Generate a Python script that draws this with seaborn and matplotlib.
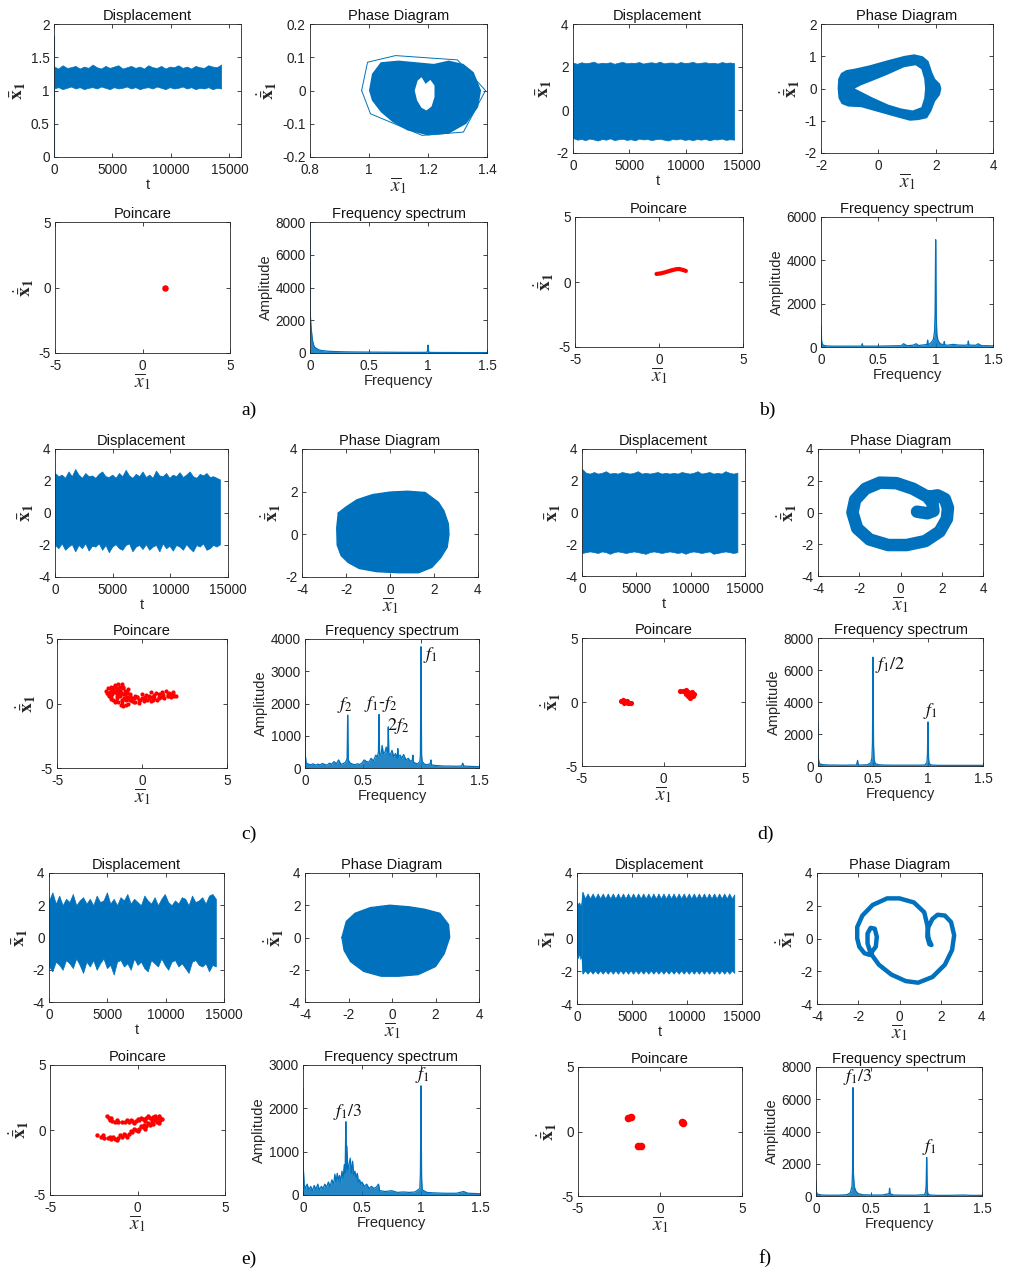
import numpy as np
import matplotlib
matplotlib.use("Agg")
import matplotlib.pyplot as plt
from matplotlib.ticker import FuncFormatter
import seaborn as sns

# =========================== DATA ===========================
T_END = 14300

# ---- displacement bands: upper / lower edge of the dense oscillation ----
a_disp_hi = [1.36,1.33,1.38,1.34,1.35,1.37,1.33,1.36,1.34,1.39,
             1.35,1.33,1.37,1.34,1.36,1.38,1.33,1.35,1.37,1.34,
             1.36,1.33,1.38,1.35,1.34,1.37,1.33,1.36,1.35,1.38,
             1.34,1.36,1.33,1.37,1.35,1.34,1.38,1.36,1.35,1.39]
a_disp_lo = [1.03,1.05,1.02,1.04,1.06,1.03,1.05,1.02,1.04,1.05,
             1.03,1.06,1.04,1.02,1.05,1.03,1.04,1.06,1.03,1.05,
             1.02,1.04,1.05,1.03,1.06,1.04,1.02,1.05,1.03,1.04,
             1.06,1.03,1.05,1.02,1.04,1.03,1.05,1.02,1.04,1.03]
a_disp_start = [0.0, 1.82]

b_disp_hi = [2.20,2.15,2.22,2.18,2.20,2.25,2.16,2.20,2.18,2.22,
             2.15,2.20,2.24,2.17,2.20,2.19,2.23,2.16,2.20,2.22,
             2.18,2.25,2.17,2.20,2.21,2.16,2.23,2.19,2.20,2.24,
             2.17,2.20,2.22,2.18,2.20,2.16,2.23,2.19,2.21,2.18]
b_disp_lo = [-1.30,-1.38,-1.35,-1.40,-1.33,-1.37,-1.42,-1.35,-1.38,-1.32,
             -1.40,-1.36,-1.34,-1.39,-1.36,-1.41,-1.33,-1.37,-1.35,-1.40,
             -1.36,-1.34,-1.38,-1.42,-1.35,-1.37,-1.33,-1.39,-1.36,-1.40,
             -1.35,-1.38,-1.34,-1.41,-1.36,-1.37,-1.33,-1.39,-1.36,-1.38]

c_disp_hi = [2.50,2.30,2.40,2.20,2.60,2.30,2.75,2.40,2.20,2.50,
             2.30,2.35,2.20,2.45,2.60,2.30,2.25,2.40,2.20,2.50,
             2.30,2.70,2.35,2.20,2.45,2.30,2.60,2.25,2.40,2.20,
             2.65,2.35,2.30,2.50,2.20,2.40,2.30,2.55,2.25,2.40,
             2.60,2.30,2.20,2.45,2.35,2.50,2.25,2.30,2.20,2.10]
c_disp_lo = [-2.00,-2.20,-1.90,-2.30,-2.10,-1.95,-2.40,-2.00,-2.20,-1.90,
             -2.35,-2.05,-2.10,-1.90,-2.30,-2.00,-2.45,-2.10,-1.95,-2.20,
             -2.30,-2.00,-1.90,-2.40,-2.10,-2.00,-2.25,-1.95,-2.30,-2.10,
             -2.00,-2.40,-1.90,-2.20,-2.05,-2.35,-2.00,-2.10,-2.30,-1.95,
             -2.20,-2.40,-2.00,-2.10,-1.90,-2.30,-2.20,-2.00,-2.10,-1.95]

d_disp_hi = [2.75,2.50,2.45,2.55,2.45,2.50,2.60,2.45,2.50,2.45,
             2.55,2.50,2.45,2.50,2.60,2.45,2.50,2.45,2.50,2.55,
             2.45,2.50,2.45,2.50,2.45,2.55,2.50,2.45,2.50,2.60,
             2.45,2.50,2.55,2.45,2.50,2.45,2.60,2.50,2.45,2.50]
d_disp_lo = [-2.55,-2.50,-2.45,-2.50,-2.55,-2.45,-2.50,-2.60,-2.50,-2.45,
             -2.50,-2.55,-2.50,-2.45,-2.50,-2.55,-2.60,-2.50,-2.45,-2.50,
             -2.55,-2.50,-2.45,-2.50,-2.55,-2.50,-2.60,-2.50,-2.45,-2.50,
             -2.55,-2.50,-2.45,-2.60,-2.55,-2.50,-2.45,-2.50,-2.55,-2.50]

e_disp_hi = [2.30,2.80,2.10,2.60,2.00,2.40,2.20,2.70,2.00,2.30,
             2.50,2.10,2.40,2.00,2.60,2.20,2.30,2.80,2.10,2.40,
             2.00,2.50,2.30,2.70,2.10,2.40,2.20,2.00,2.60,2.30,
             2.10,2.50,2.00,2.40,2.70,2.20,2.00,2.30,2.10,2.50,
             2.40,2.00,2.60,2.20,2.30,2.50,2.10,2.60,2.70,2.40]
e_disp_lo = [-1.80,-2.10,-1.50,-1.70,-2.00,-1.40,-1.60,-1.90,-1.30,-1.70,
             -2.20,-1.50,-1.80,-1.40,-2.00,-1.60,-1.30,-1.90,-1.70,-2.30,
             -1.50,-1.40,-1.80,-1.60,-2.00,-1.30,-1.70,-1.50,-1.90,-2.10,
             -1.40,-1.60,-1.80,-1.30,-1.70,-2.00,-1.50,-1.40,-1.80,-1.60,
             -1.90,-2.20,-1.50,-1.40,-1.70,-1.80,-1.60,-2.10,-1.70,-1.80]

f_trans_t = [0, 100, 200, 300, 400, 480]
f_trans_hi = [2.20, 2.10, 2.20, 2.00, 2.20, 2.85]
f_trans_lo = [-0.80, -1.20, -0.90, -1.25, -1.00, -2.10]
f_disp_hi = [2.85,2.45,2.75,2.45,2.75,2.45,2.75,2.45,2.75,2.45,
             2.75,2.45,2.75,2.45,2.75,2.45,2.75,2.45,2.75,2.45,
             2.75,2.45,2.75,2.45,2.75,2.45,2.75,2.45,2.75,2.45,
             2.75,2.45,2.75,2.45,2.75,2.45,2.75,2.45,2.75,2.45,
             2.75,2.45,2.75,2.45,2.75,2.45,2.75,2.45,2.75,2.45,
             2.75,2.45,2.75,2.45,2.75,2.45,2.75,2.45,2.75,2.45,
             2.70]
f_disp_lo = [-2.15,-1.95,-2.15,-1.95,-2.15,-1.95,-2.15,-1.95,-2.15,-1.95,
             -2.15,-1.95,-2.15,-1.95,-2.15,-1.95,-2.15,-1.95,-2.15,-1.95,
             -2.15,-1.95,-2.15,-1.95,-2.15,-1.95,-2.15,-1.95,-2.15,-1.95,
             -2.15,-1.95,-2.15,-1.95,-2.15,-1.95,-2.15,-1.95,-2.15,-1.95,
             -2.15,-1.95,-2.15,-1.95,-2.15,-1.95,-2.15,-1.95,-2.15,-1.95,
             -2.15,-1.95,-2.15,-1.95,-2.15,-1.95,-2.15,-1.95,-2.15,-1.95,
             -2.10]

# ---- phase diagrams (x, xdot) ----
a_phase_outer = [(1.00,0.00),(1.01,0.05),(1.04,0.085),(1.10,0.09),(1.16,0.085),(1.22,0.08),
                 (1.27,0.09),(1.32,0.08),(1.355,0.055),(1.38,0.00),(1.37,-0.05),(1.33,-0.10),
                 (1.27,-0.13),(1.20,-0.135),(1.13,-0.12),(1.08,-0.095),(1.04,-0.065),(1.01,-0.03)]
a_phase_hole = [(1.155,0.00),(1.165,0.03),(1.178,0.040),(1.192,0.020),(1.208,0.032),(1.222,0.015),
                (1.222,-0.020),(1.212,-0.048),(1.195,-0.060),(1.178,-0.052),(1.163,-0.030)]
a_phase_hull = [(0.975,0.00),(0.995,0.085),(1.09,0.105),(1.30,0.092),(1.395,0.00),(1.32,-0.125),
                (1.18,-0.135),(1.005,-0.07),(0.975,0.00)]

b_phase_outer = [(-1.42,0.00),(-1.40,0.30),(-1.30,0.48),(-1.12,0.57),(-0.80,0.62),(-0.30,0.72),
                 (0.30,0.87),(0.90,1.01),(1.25,1.06),(1.55,1.00),(1.75,0.85),(1.88,0.50),
                 (1.98,0.30),(2.15,0.15),(2.20,0.00),(2.15,-0.20),(1.98,-0.40),(1.85,-0.70),
                 (1.70,-0.92),(1.40,-0.98),(1.10,-1.00),(0.60,-0.88),(0.00,-0.73),(-0.60,-0.58),
                 (-1.05,-0.56),(-1.28,-0.48),(-1.39,-0.30)]
b_phase_inner = [(-0.82,0.00),(-0.60,0.10),(-0.20,0.24),(0.30,0.42),(0.90,0.66),(1.30,0.72),
                 (1.50,0.60),(1.60,0.30),(1.63,0.00),(1.60,-0.30),(1.50,-0.58),(1.20,-0.68),
                 (0.80,-0.62),(0.35,-0.50),(-0.20,-0.28),(-0.60,-0.10)]

c_phase_outer = [(-2.35,1.00),(-2.42,0.30),(-2.40,-0.50),(-2.22,-1.00),(-1.90,-1.32),(-1.40,-1.60),
                 (-0.60,-1.75),(0.40,-1.80),(1.30,-1.80),(1.90,-1.55),(2.30,-1.10),(2.60,-0.60),
                 (2.68,0.00),(2.65,0.50),(2.45,1.10),(2.20,1.50),(1.60,1.96),(0.80,2.02),
                 (0.00,1.98),(-0.80,1.86),(-1.50,1.62),(-2.00,1.28)]

d_phase_path = [(0.80,0.05),(1.30,-0.05),(1.60,0.10),(1.55,0.60),(1.30,1.00),(0.60,1.50),
                (-0.20,1.85),(-1.00,1.88),(-1.70,1.50),(-2.20,0.80),(-2.33,0.00),(-2.10,-1.00),
                (-1.50,-1.70),(-0.60,-2.05),(0.30,-2.05),(1.20,-1.80),(1.90,-1.20),(2.25,-0.40),
                (2.30,0.30),(2.15,0.85),(1.80,1.08),(1.40,1.00)]

e_phase_outer = [(-2.30,0.00),(-2.10,1.00),(-1.70,1.50),(-1.00,1.85),(-0.10,2.00),(0.80,1.90),
                 (1.50,1.75),(2.20,1.50),(2.60,0.80),(2.65,0.00),(2.40,-1.00),(2.00,-1.80),
                 (1.20,-2.30),(0.30,-2.40),(-0.50,-2.40),(-1.30,-2.10),(-1.90,-1.50),(-2.20,-0.80)]

f_phase_path = [(1.40,0.00),(1.35,0.80),(1.20,1.60),(0.70,2.20),(0.00,2.45),(-0.60,2.45),
                (-1.30,2.05),(-1.80,1.40),(-2.05,0.70),(-2.05,0.00),(-1.95,-0.50),(-1.70,-0.90),
                (-1.45,-1.00),(-1.15,-0.50),(-1.10,0.10),(-1.20,0.60),(-1.40,0.65),(-1.55,0.30),
                (-1.55,-0.30),(-1.40,-0.90),(-1.00,-1.60),(-0.40,-2.20),(0.30,-2.60),(0.90,-2.70),
                (1.60,-2.35),(2.20,-1.60),(2.55,-0.70),(2.65,0.20),(2.50,1.00),(2.20,1.40),
                (1.85,1.45),(1.60,1.20),(1.40,0.70),(1.35,0.10),(1.45,-0.35),(1.55,-0.40),(1.40,0.00)]

# ---- Poincare sections ----
a_poin = [(1.30, 0.00)]
b_poin = [(-0.15,0.62),(0.10,0.66),(0.40,0.76),(0.70,0.88),(1.00,0.98),(1.20,1.00),(1.45,0.92),(1.60,0.85)]
c_poin_x = [-2.1,-2.0,-1.9,-1.8,-1.7,-1.6,-1.5,-1.4,-1.3,-1.2,-1.1,-1.0,-0.9,
            -2.0,-1.85,-1.7,-1.55,-1.4,-1.25,-1.1,-0.95,-0.8,-0.6,-0.4,-0.2,
            0.0,0.2,0.4,0.6,0.8,1.0,1.2,1.4,1.6,1.8,2.0,
            -1.5,-1.3,-1.1,-0.9,-0.7,-0.5,-0.3,-0.1,0.1,0.3,0.5,0.7,0.9,1.1,1.3,1.5,1.7,1.9,
            -1.9,-1.6,-1.3,-1.0,-0.7,-0.4,0.0,0.5,1.0,1.5,-1.75,-1.45,-1.15,-0.85,
            -2.05,-1.95,-1.85,-1.75,-1.65,-1.55,-1.45,-1.35,-1.25,-1.15,-1.05,-0.95,
            -1.8,-1.6,-1.4,-1.2,-1.0,-0.8,-0.6,-0.3,0.1,0.4,0.7,1.0,1.25,1.55,1.85,
            -1.7,-1.5,-1.3,-1.1,-0.9,-0.7,-0.45,-0.15,0.25,0.65,1.15,1.65]
c_poin_y = [1.0,1.2,0.9,1.3,1.1,1.4,1.2,1.5,1.3,1.5,1.2,1.0,0.8,
            0.7,0.5,0.3,0.2,0.1,-0.1,-0.2,-0.1,0.0,0.2,0.1,0.3,
            0.4,0.5,0.6,0.5,0.8,0.7,0.9,1.0,0.8,0.9,0.6,
            0.8,0.6,0.7,0.5,0.6,0.4,0.5,0.3,0.2,0.3,0.2,0.4,0.3,0.5,0.4,0.6,0.5,0.6,
            0.6,0.9,1.0,0.4,0.3,0.6,0.7,0.9,0.5,0.7,0.95,0.55,0.3,1.1,
            0.8,0.6,1.15,0.7,1.25,0.9,0.4,1.1,0.8,0.0,0.4,0.3,
            0.35,0.15,0.7,0.2,0.7,0.35,0.45,0.5,0.45,0.4,0.65,0.45,0.65,0.55,0.75,
            1.05,1.0,0.95,1.25,0.95,0.75,0.15,0.05,0.65,0.25,0.85,0.75]
d_poin = [(-2.60,0.10),(-2.50,0.15),(-2.40,0.05),(-2.30,0.00),(-2.20,-0.05),(-2.10,-0.05),
          (-2.00,-0.10),(-2.45,-0.05),(-2.25,0.10),
          (1.00,0.85),(1.20,0.85),(1.35,0.90),(1.50,0.80),(1.60,0.70),(1.70,0.55),(1.80,0.45),
          (1.50,0.45),(1.60,0.35),(1.75,0.75),(1.40,0.65),(1.85,0.60)]
e_poin = [(-1.75,1.05),(-1.65,0.90),(-1.55,0.80),(-1.45,0.70),(-1.30,0.65),(-1.10,0.60),(-0.90,0.62),
          (-0.70,0.60),(-0.50,0.65),(-0.30,0.70),(-0.10,0.72),(0.10,0.80),(0.30,0.85),(0.50,0.90),
          (0.70,0.95),(0.90,1.00),(1.10,0.95),(1.30,0.90),(1.40,0.85),(-1.20,0.75),(-0.60,0.75),
          (0.00,0.85),(0.60,1.05),(1.00,1.10),(0.40,0.70),(-0.20,0.55),(0.80,0.80),
          (-2.30,-0.40),(-2.10,-0.50),(-1.90,-0.60),(-1.70,-0.65),(-1.50,-0.70),(-1.30,-0.70),
          (-1.10,-0.60),(-0.90,-0.50),(-0.70,-0.40),(-0.50,-0.30),(-0.30,-0.15),(-0.10,0.00),
          (0.10,0.10),(0.30,0.20),(0.50,0.30),(0.70,0.40),(0.90,0.50),(1.10,0.65),(1.30,0.75),
          (-1.60,-0.50),(-1.00,-0.40),(-0.40,-0.10),(0.20,0.30),(0.60,0.55),(1.00,0.80),
          (-1.20,-0.80),(-0.60,-0.50),(0.00,-0.10),(0.40,0.10),
          (-2.00,-0.40),(-1.40,-0.55),(-0.80,-0.30),(-0.20,0.10),(0.35,0.40),(0.85,0.65),
          (1.20,0.55),(-1.50,0.95),(-0.40,0.80),(0.20,0.95),(0.95,0.85),(1.25,1.05)]
f_poin = [(-1.95,1.08),(-1.78,1.12),(-1.33,-1.14),(-1.18,-1.12),(1.33,0.76),(1.38,0.64)]

# ---- frequency spectra (frequency, amplitude) ----
a_spec = [(0,8000),(0.002,2500),(0.005,2000),(0.01,1500),(0.02,800),(0.03,500),(0.04,350),(0.06,250),
          (0.08,180),(0.1,150),(0.15,110),(0.2,90),(0.3,70),(0.4,60),(0.5,55),(0.6,50),(0.7,45),
          (0.8,40),(0.9,40),(0.99,40),(0.995,120),(1.0,480),(1.005,100),(1.01,35),(1.1,30),
          (1.2,30),(1.3,25),(1.4,25),(1.5,25)]
b_spec = [(0,1000),(0.005,300),(0.01,150),(0.02,80),(0.05,50),(0.1,40),(0.2,40),(0.3,40),(0.355,40),
          (0.36,150),(0.365,40),(0.4,40),(0.5,40),(0.6,50),(0.7,60),(0.72,150),(0.75,60),(0.8,80),
          (0.83,150),(0.85,70),(0.9,100),(0.925,120),(0.93,320),(0.935,100),(0.96,200),(0.98,350),
          (0.99,700),(0.995,1500),(1.0,4950),(1.005,1400),(1.01,600),(1.02,300),(1.04,150),
          (1.07,100),(1.075,250),(1.08,100),(1.1,80),(1.15,120),(1.2,90),(1.25,80),(1.28,100),
          (1.285,280),(1.29,90),(1.35,80),(1.37,150),(1.4,60),(1.45,60),(1.5,50)]
c_spec = [(0.0,2200),(0.003,400),(0.01,150),(0.03,120),(0.05,100),(0.07,130),(0.09,90),(0.11,120),
          (0.13,100),(0.15,140),(0.17,110),(0.19,90),(0.21,150),(0.23,120),(0.25,200),(0.27,130),
          (0.29,250),(0.31,110),(0.33,140),(0.35,180),(0.363,300),(0.368,1640),(0.373,250),
          (0.39,150),(0.41,120),(0.43,100),(0.45,130),(0.47,110),(0.49,150),(0.51,250),(0.53,200),
          (0.55,180),(0.57,300),(0.59,220),(0.61,400),(0.625,350),(0.633,500),(0.638,1660),
          (0.643,450),(0.655,400),(0.665,700),(0.675,450),(0.69,500),(0.70,650),(0.713,500),
          (0.718,1275),(0.723,450),(0.735,400),(0.75,550),(0.765,350),(0.78,450),(0.795,300),
          (0.80,600),(0.805,350),(0.82,400),(0.835,300),(0.85,420),(0.87,250),(0.89,300),
          (0.91,200),(0.925,250),(0.93,400),(0.935,180),(0.95,150),(0.97,130),(0.99,200),
          (0.995,400),(1.0,3760),(1.005,400),(1.01,200),(1.03,120),(1.05,100),(1.08,130),
          (1.085,250),(1.09,100),(1.12,80),(1.16,70),(1.2,60),(1.25,60),(1.3,55),(1.35,60),
          (1.36,150),(1.37,60),(1.42,50),(1.46,45),(1.5,40)]
d_spec = [(0,2700),(0.003,500),(0.01,200),(0.02,120),(0.05,80),(0.1,60),(0.15,60),(0.2,50),(0.25,50),
          (0.3,60),(0.35,60),(0.36,350),(0.365,120),(0.37,60),(0.4,60),(0.45,80),(0.48,200),
          (0.49,500),(0.495,1400),(0.5,6800),(0.505,1300),(0.51,400),(0.52,150),(0.55,80),(0.6,60),
          (0.7,50),(0.8,50),(0.9,50),(0.97,60),(0.99,200),(0.995,700),(1.0,2750),(1.005,500),
          (1.01,150),(1.03,60),(1.1,40),(1.2,40),(1.3,40),(1.4,40),(1.5,40)]
e_spec = [(0,2460),(0.003,600),(0.01,250),(0.02,150),(0.035,250),(0.05,120),(0.065,200),(0.08,100),
          (0.095,220),(0.11,130),(0.125,250),(0.14,120),(0.155,200),(0.17,150),(0.185,250),(0.2,180),
          (0.215,300),(0.23,200),(0.245,350),(0.26,250),(0.27,480),(0.28,300),(0.29,500),(0.3,350),
          (0.31,450),(0.32,300),(0.33,550),(0.34,400),(0.35,700),(0.357,500),(0.363,1690),(0.368,600),
          (0.372,1130),(0.38,550),(0.39,700),(0.4,850),(0.41,500),(0.42,780),(0.43,450),(0.44,550),
          (0.45,400),(0.46,500),(0.47,300),(0.48,350),(0.49,250),(0.5,300),(0.52,200),(0.54,250),
          (0.56,150),(0.58,200),(0.6,150),(0.62,180),(0.64,250),(0.65,100),(0.7,80),(0.75,100),
          (0.8,60),(0.85,70),(0.9,60),(0.95,70),(0.99,150),(0.995,500),(1.0,2520),(1.005,400),
          (1.01,120),(1.05,60),(1.1,50),(1.2,40),(1.3,40),(1.36,80),(1.4,40),(1.5,30)]
f_spec = [(0,950),(0.003,300),(0.01,120),(0.05,60),(0.1,50),(0.2,50),(0.28,80),(0.31,200),(0.325,600),
          (0.33,1500),(0.334,6720),(0.338,1400),(0.345,600),(0.35,500),(0.36,300),(0.38,150),
          (0.42,80),(0.5,60),(0.6,60),(0.66,150),(0.665,480),(0.67,150),(0.7,60),(0.8,50),(0.9,50),
          (0.98,80),(0.99,250),(0.995,600),(1.0,2390),(1.005,500),(1.01,150),(1.03,60),(1.1,40),
          (1.2,40),(1.33,60),(1.4,40),(1.5,40)]

# peak annotations: (text, x, y, ha, va)
c_notes = [(r'$f_2$', 0.345, 1650, 'center', 'bottom'), (r'$f_1$-$f_2$', 0.655, 1660, 'center', 'bottom'),
           (r'$2f_2$', 0.805, 980, 'center', 'bottom'), (r'$f_1$', 1.02, 3820, 'left', 'top')]
d_notes = [(r'$f_1/2$', 0.52, 6950, 'left', 'top'), (r'$f_1$', 1.02, 2800, 'center', 'bottom')]
e_notes = [(r'$f_1/3$', 0.38, 1690, 'center', 'bottom'), (r'$f_1$', 1.01, 2530, 'center', 'bottom')]
f_notes = [(r'$f_1/3$', 0.375, 6780, 'center', 'bottom'), (r'$f_1$', 1.02, 2400, 'center', 'bottom')]

# =========================== STYLE ===========================
sns.set_theme(style="ticks")
plt.rcParams['font.family'] = ['Liberation Sans', 'DejaVu Sans']
plt.rcParams['mathtext.fontset'] = 'stix'
plt.rcParams['axes.unicode_minus'] = False
plt.rcParams['lines.solid_joinstyle'] = 'round'
plt.rcParams['lines.solid_capstyle'] = 'round'

BLUE = '#0072BD'
RED = '#FF0000'
AXC = '#262626'
W, H = 1010, 1272
TICK_FS = 9.8
TITLE_FS = 10.5
LABEL_FS = 10.5
MATH_FS = 14

fig = plt.figure(figsize=(W / 100, H / 100), dpi=100)
fig.patch.set_facecolor('white')


def make_ax(x0, y0, x1, y1):
    return fig.add_axes([x0 / W, 1 - y1 / H, (x1 - x0) / W, (y1 - y0) / H])


fmt = FuncFormatter(lambda v, p: '%g' % round(v, 6))


def style(ax, xlim, xticks, ylim, yticks, title):
    ax.set_xlim(xlim)
    ax.set_ylim(ylim)
    ax.set_xticks(xticks)
    ax.set_yticks(yticks)
    ax.xaxis.set_major_formatter(fmt)
    ax.yaxis.set_major_formatter(fmt)
    ax.tick_params(direction='in', top=True, right=True, length=3, width=0.6,
                   labelsize=TICK_FS, colors=AXC, labelcolor='#222222')
    ax.tick_params(axis='x', pad=4.2)
    ax.tick_params(axis='y', pad=3.2)
    for s in ax.spines.values():
        s.set_visible(True)
        s.set_linewidth(0.6)
        s.set_color(AXC)
    ax.set_facecolor('white')
    ax.set_title(title, fontsize=TITLE_FS, pad=3, color='#111111')


YL_DISP = r'$\bar{\mathbf{x}}_\mathbf{1}$'
YL_DOT = r'$\dot{\bar{\mathbf{x}}}_\mathbf{1}$'
XL_BAR = r'$\overline{x}_1$'


def disp_panel(box, hi, lo, ylim, yticks, xlim=(0, 15000), t0=0, t1=T_END):
    ax = make_ax(*box)
    t = np.linspace(t0, t1, len(hi))
    ax.fill_between(t, lo, hi, color=BLUE, lw=0.5, edgecolor=BLUE)
    style(ax, xlim, [0, 5000, 10000, 15000], ylim, yticks, 'Displacement')
    ax.set_xlabel('t', fontsize=LABEL_FS, labelpad=1)
    ax.set_ylabel(YL_DISP, fontsize=MATH_FS, labelpad=2)
    return ax


def phase_axes(box, xlim, xticks, ylim, yticks):
    ax = make_ax(*box)
    style(ax, xlim, xticks, ylim, yticks, 'Phase Diagram')
    ax.set_xlabel(XL_BAR, fontsize=MATH_FS, labelpad=-1)
    ax.set_ylabel(YL_DOT, fontsize=MATH_FS, labelpad=2)
    return ax


def fill_poly(ax, pts, color, **kw):
    xs, ys = zip(*pts)
    ax.fill(xs, ys, color=color, lw=0, **kw)


def poin_panel(box, xs, ys, size):
    ax = make_ax(*box)
    sns.scatterplot(x=list(xs), y=list(ys), ax=ax, color=RED, s=size, linewidth=0, legend=False)
    style(ax, (-5, 5), [-5, 0, 5], (-5, 5), [-5, 0, 5], 'Poincare')
    ax.set_xlabel(XL_BAR, fontsize=MATH_FS, labelpad=-1)
    ax.set_ylabel(YL_DOT, fontsize=MATH_FS, labelpad=2)
    return ax


def spec_panel(box, spec, ylim, yticks, notes=()):
    ax = make_ax(*box)
    fx, fy = zip(*spec)
    ax.fill_between(fx, 0, fy, color=BLUE, lw=0, alpha=0.85)
    sns.lineplot(x=list(fx), y=list(fy), ax=ax, color=BLUE, lw=0.9, sort=False, estimator=None)
    style(ax, (0, 1.5), [0, 0.5, 1, 1.5], ylim, yticks, 'Frequency spectrum')
    ax.set_xlabel('Frequency', fontsize=LABEL_FS, labelpad=1)
    ax.set_ylabel('Amplitude', fontsize=LABEL_FS, labelpad=2)
    for txt, x, y, ha, va in notes:
        ax.text(x, y, txt, fontsize=13, ha=ha, va=va, color='#111111')
    return ax


# =========================== PANEL a ===========================
ax = disp_panel((54, 24, 241, 157), a_disp_hi, a_disp_lo, (0, 2), [0, 0.5, 1, 1.5, 2], xlim=(0, 16000))
ax.plot([0, 0], a_disp_start, color=BLUE, lw=0.8)
ax = phase_axes((310, 24, 487, 157), (0.8, 1.4), [0.8, 1, 1.2, 1.4], (-0.2, 0.2), [-0.2, -0.1, 0, 0.1, 0.2])
fill_poly(ax, a_phase_outer, BLUE)
fill_poly(ax, a_phase_hole, 'white')
hx, hy = zip(*a_phase_hull)
ax.plot(hx, hy, color=BLUE, lw=0.7)
px, py = zip(*a_poin)
poin_panel((55, 222, 230, 353), px, py, 22)
spec_panel((310, 222, 487, 353), a_spec, (0, 8000), [0, 2000, 4000, 6000, 8000])

# =========================== PANEL b ===========================
disp_panel((573, 24, 742, 153), b_disp_hi, b_disp_lo, (-2, 4), [-2, 0, 2, 4])
ax = phase_axes((821, 24, 993, 153), (-2, 4), [-2, 0, 2, 4], (-2, 2), [-2, -1, 0, 1, 2])
fill_poly(ax, b_phase_outer, BLUE)
fill_poly(ax, b_phase_inner, 'white')
ax = poin_panel((575, 217, 743, 347), [], [], 10)
bx, by = zip(*b_poin)
sns.lineplot(x=list(bx), y=list(by), ax=ax, color=RED, lw=3.0, sort=False, estimator=None)
spec_panel((821, 217, 993, 347), b_spec, (0, 6000), [0, 2000, 4000, 6000])

# =========================== PANEL c ===========================
disp_panel((55, 449, 228, 577), c_disp_hi, c_disp_lo, (-4, 4), [-4, -2, 0, 2, 4])
ax = phase_axes((302, 449, 478, 577), (-4, 4), [-4, -2, 0, 2, 4], (-2, 4), [-2, 0, 2, 4])
fill_poly(ax, c_phase_outer, BLUE)
cx, cy = zip(*(c_phase_outer + c_phase_outer[:1]))
ax.plot(cx, cy, color=BLUE, lw=1.0)
poin_panel((57, 639, 227, 768), c_poin_x, c_poin_y, 9)
spec_panel((305, 639, 479, 768), c_spec, (0, 4000), [0, 1000, 2000, 3000, 4000], c_notes)

# =========================== PANEL d ===========================
disp_panel((582, 449, 745, 576), d_disp_hi, d_disp_lo, (-4, 4), [-4, -2, 0, 2, 4])
ax = phase_axes((818, 449, 983, 576), (-4, 4), [-4, -2, 0, 2, 4], (-4, 4), [-4, -2, 0, 2, 4])
dx, dy = zip(*d_phase_path)
sns.lineplot(x=list(dx), y=list(dy), ax=ax, color=BLUE, lw=9, sort=False, estimator=None)
px, py = zip(*d_poin)
poin_panel((582, 638, 745, 766), px, py, 14)
spec_panel((818, 638, 983, 766), d_spec, (0, 8000), [0, 2000, 4000, 6000, 8000], d_notes)

# =========================== PANEL e ===========================
disp_panel((49, 873, 224, 1002), e_disp_hi, e_disp_lo, (-4, 4), [-4, -2, 0, 2, 4])
ax = phase_axes((305, 873, 479, 1002), (-4, 4), [-4, -2, 0, 2, 4], (-4, 4), [-4, -2, 0, 2, 4])
fill_poly(ax, e_phase_outer, BLUE)
ex, ey = zip(*(e_phase_outer + e_phase_outer[:1]))
ax.plot(ex, ey, color=BLUE, lw=1.0)
px, py = zip(*e_poin)
poin_panel((50, 1065, 225, 1195), px, py, 10)
spec_panel((303, 1065, 480, 1195), e_spec, (0, 3000), [0, 1000, 2000, 3000], e_notes)

# =========================== PANEL f ===========================
ax = disp_panel((577, 873, 742, 1004), f_disp_hi, f_disp_lo, (-4, 4), [-4, -2, 0, 2, 4], t0=500)
ax.fill_between(f_trans_t, f_trans_lo, f_trans_hi, color=BLUE, lw=0.5, edgecolor=BLUE)
ax = phase_axes((817, 873, 982, 1004), (-4, 4), [-4, -2, 0, 2, 4], (-4, 4), [-4, -2, 0, 2, 4])
fx_, fy_ = zip(*f_phase_path)
sns.lineplot(x=list(fx_), y=list(fy_), ax=ax, color=BLUE, lw=3.2, sort=False, estimator=None)
px, py = zip(*f_poin)
poin_panel((578, 1067, 742, 1196), px, py, 30)
spec_panel((816, 1067, 982, 1196), f_spec, (0, 8000), [0, 2000, 4000, 6000, 8000], f_notes)

# =========================== panel letters ===========================
for lab, x, y in [('a)', 249, 410), ('b)', 767, 410), ('c)', 249, 834),
                  ('d)', 765, 834), ('e)', 249, 1259), ('f)', 765, 1258)]:
    fig.text(x / W, 1 - y / H, lab, fontsize=14, family='Liberation Serif',
             ha='center', va='center', color='black')

fig.savefig('out.png', dpi=100, facecolor='white')
